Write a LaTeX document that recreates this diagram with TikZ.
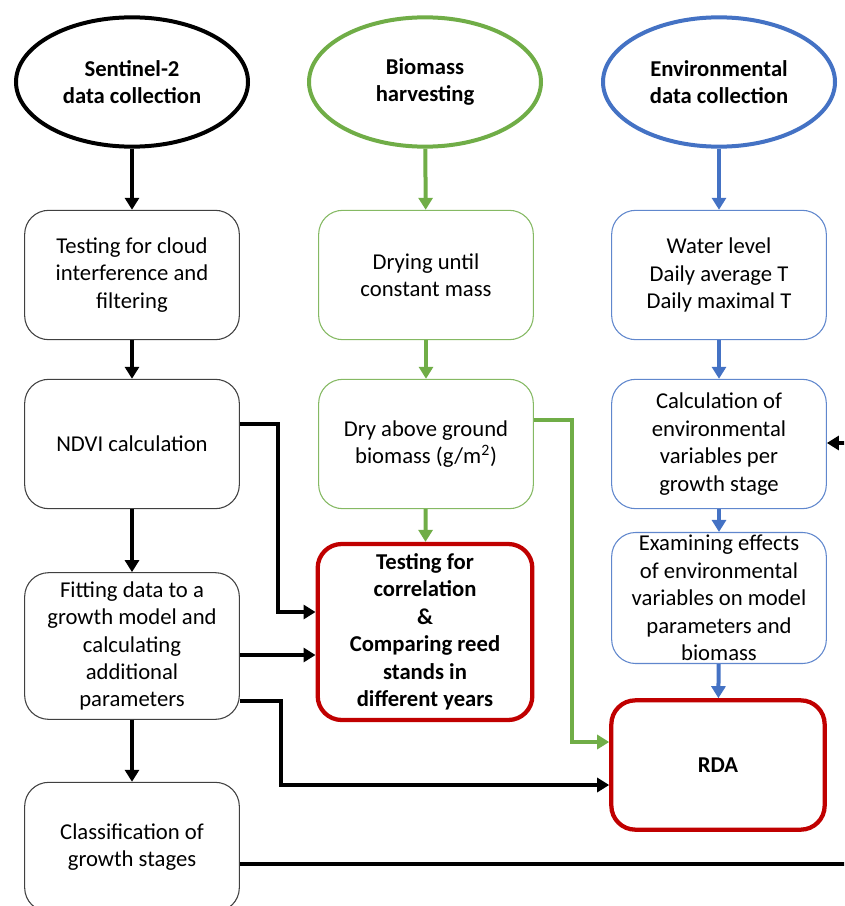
\documentclass[tikz,border=0pt]{standalone}
\usepackage{fontspec}
\setmainfont{Carlito}
\usepackage{tikz}
\usetikzlibrary{arrows.meta,positioning,calc,shapes.geometric}
\definecolor{leaf}{RGB}{112,173,71}
\definecolor{sky}{RGB}{68,114,196}
\definecolor{brick}{RGB}{192,0,0}
\definecolor{edge}{RGB}{64,64,64}
\tikzset{txt/.style={font=\fontsize{17}{20.6}\selectfont,align=center},src/.style={txt,ellipse,draw,line width=3pt,minimum width=174pt,minimum height=97pt,fill=white,font=\fontsize{17}{20.6}\selectfont\bfseries},proc/.style={txt,draw=edge,line width=0.8pt,rounded corners=18pt,minimum width=161pt,minimum height=97pt,fill=white,inner sep=2pt},res/.style={proc,draw=brick,line width=3.2pt,font=\fontsize{17}{20.6}\selectfont\bfseries},blk/.style={-{Triangle[length=9pt,width=10.5pt]},line width=3pt},grn/.style={blk,draw=leaf},blu/.style={blk,draw=sky}}

\begin{document}
\begin{tikzpicture}[x=0.75pt,y=-0.75pt]
\useasboundingbox (0,0) rectangle (844,906);
\clip (0,0) rectangle (844,906);
% sources
\node[src] (sen) at (132,82) {Sentinel-2\\data collection};
\node[src,draw=leaf] (bio) at (425,82) {Biomass\\harvesting};
\node[src,draw=sky] (env) at (719,82) {Environmental\\data collection};
% first column
\node[proc] (cloud) at (132,275) {Testing for cloud\\interference and\\filtering};
\node[proc] (ndvi) at (132,444) {NDVI calculation};
\node[proc,minimum height=110pt] (fit) at (132,646) {Fitting data to a\\growth model and\\calculating\\additional\\parameters};
\node[proc] (cls) at (132,847) {Classification of\\growth stages};
% second column
\node[proc,draw=leaf!85] (drying) at (426,275) {Drying until\\constant mass};
\node[proc,draw=leaf!85] (dry) at (426,444) {Dry above ground\\biomass (g/m\textsuperscript{2})};
\node[res,minimum width=161pt,minimum height=132pt] (corr) at (425,632) {Testing for\\correlation\\\&\\Comparing reed\\stands in\\different years};
% third column
\node[proc,draw=sky!85] (water) at (719,275) {Water level\\Daily average T\\Daily maximal T};
\node[proc,draw=sky!85] (calc) at (719,444) {Calculation of\\environmental\\variables per\\growth stage};
\node[proc,draw=sky!85] (exam) at (719,598) {Examining effects\\of environmental\\variables on model\\parameters and\\biomass};
\node[res,minimum width=160pt] (rda) at (718,765) {RDA};
% bends
\coordinate (ya) at (278,424);
\coordinate (yb) at (278,612);
\coordinate (yc) at (0,655);
\coordinate (yd) at (281,701);
\coordinate (ye) at (281,785);
\coordinate (ga) at (572,420);
\coordinate (gb) at (572,742);
\coordinate (la) at (880,864);
\coordinate (lb) at (880,443);
% connectors
\draw[blk] (sen) -- (cloud);
\draw[blk] (cloud) -- (ndvi);
\draw[blk] (ndvi) -- (fit);
\draw[blk] (fit) -- (cls);
\draw[grn] (bio) -- (drying);
\draw[grn] (drying) -- (dry);
\draw[grn] (dry) -- (corr);
\draw[blu] (env) -- (water);
\draw[blu] (water) -- (calc);
\draw[blu] (calc) -- (exam);
\draw[blu] (exam) -- (rda);
\draw[blk] (ndvi.east |- ya) -- (ya) -- (yb) -- (corr.west |- yb);
\draw[blk] (fit.east |- yc) -- (corr.west |- yc);
\draw[blk] (fit.east |- yd) -- (yd) -- (ye) -- (rda.west |- ye);
\draw[grn] (dry.east |- ga) -- (ga) -- (gb) -- (rda.west |- gb);
\draw[blk] (cls.east |- la) -- (la) -- (lb) -- (calc.east |- lb);
\end{tikzpicture}
\end{document}
